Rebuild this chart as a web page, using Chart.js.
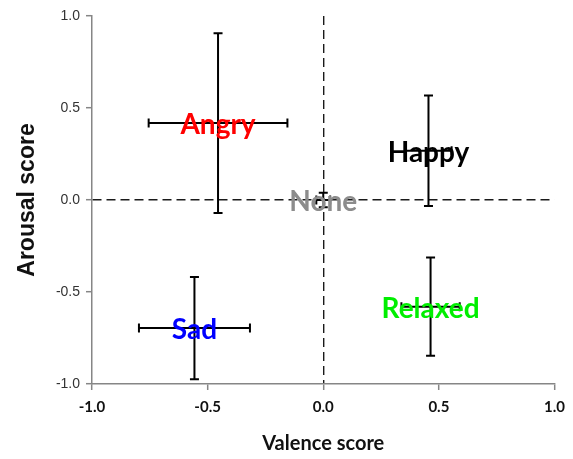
<!DOCTYPE html>
<html>
<head>
<meta charset="utf-8">
<script src="https://cdn.jsdelivr.net/npm/chart.js@4.4.1/dist/chart.umd.min.js"></script>
<style>
  html, body { margin: 0; padding: 0; background: #fff; }
  #wrap { width: 573px; height: 459px; }
</style>
</head>
<body>
<div id="wrap"><canvas id="chart"></canvas></div>
<script>
// emotion means with error bars (valence = x, arousal = y)
const emotions = ['Angry', 'Happy', 'None', 'Sad', 'Relaxed'];
const valence = [-0.455, 0.455, 0.0, -0.557, 0.464];
const valenceErr = [0.30, 0.10, 0.03, 0.24, 0.126];
const arousal = [0.418, 0.268, 0.0, -0.696, -0.58];
const arousalErr = [0.488, 0.30, 0.04, 0.278, 0.267];
const labelColors = ['#ff0000', '#000000', '#8c8c8c', '#0000ff', '#00ee00'];
const axisTicks = [-1.0, -0.5, 0.0, 0.5, 1.0];

const points = emotions.map((name, i) => ({ x: valence[i], y: arousal[i] }));

// draws the cross error bars and the text labels
const errorBarPlugin = {
    id: 'errorBars',
    afterDatasetsDraw(chart) {
        const ctx = chart.ctx;
        const xs = chart.scales.x;
        const ys = chart.scales.y;
        const cap = 4.5;

        ctx.save();
        ctx.strokeStyle = '#000';
        ctx.lineWidth = 2;
        emotions.forEach((name, i) => {
            const cx = xs.getPixelForValue(valence[i]);
            const cy = ys.getPixelForValue(arousal[i]);
            const x0 = xs.getPixelForValue(valence[i] - valenceErr[i]);
            const x1 = xs.getPixelForValue(valence[i] + valenceErr[i]);
            const y0 = ys.getPixelForValue(arousal[i] - arousalErr[i]);
            const y1 = ys.getPixelForValue(arousal[i] + arousalErr[i]);

            ctx.beginPath();
            // horizontal bar + caps
            ctx.moveTo(x0, cy); ctx.lineTo(x1, cy);
            ctx.moveTo(x0, cy - cap); ctx.lineTo(x0, cy + cap);
            ctx.moveTo(x1, cy - cap); ctx.lineTo(x1, cy + cap);
            // vertical bar + caps
            ctx.moveTo(cx, y0); ctx.lineTo(cx, y1);
            ctx.moveTo(cx - cap, y0); ctx.lineTo(cx + cap, y0);
            ctx.moveTo(cx - cap, y1); ctx.lineTo(cx + cap, y1);
            ctx.stroke();
        });

        ctx.font = 'bold 28px Lato, "Open Sans", sans-serif';
        ctx.textAlign = 'center';
        ctx.textBaseline = 'middle';
        emotions.forEach((name, i) => {
            ctx.fillStyle = labelColors[i];
            ctx.fillText(name, xs.getPixelForValue(valence[i]), ys.getPixelForValue(arousal[i]) + 2);
        });
        ctx.restore();
    }
};

const zeroGrid = (c) => (c.tick && c.tick.value === 0 ? '#1a1a1a' : 'rgba(0,0,0,0)');

new Chart(document.getElementById('chart'), {
    type: 'scatter',
    data: {
        datasets: [{
            data: points,
            pointRadius: 0,
            showLine: false
        }]
    },
    options: {
        responsive: true,
        maintainAspectRatio: false,
        animation: false,
        layout: { padding: { left: 8, right: 18, top: 16, bottom: 2 } },
        plugins: {
            legend: { display: false },
            tooltip: { enabled: false }
        },
        scales: {
            x: {
                type: 'linear',
                min: -1, max: 1,
                afterBuildTicks: (scale) => { scale.ticks = axisTicks.map(v => ({ value: v })); },
                afterFit: (scale) => { scale.height = 73; },
                border: { color: '#868686', width: 1.5, dash: [9, 5] },
                grid: {
                    color: zeroGrid,
                    lineWidth: 1.4,
                    tickColor: '#868686',
                    tickLength: 6,
                    tickWidth: 1.5
                },
                ticks: {
                    color: '#111',
                    padding: 8,
                    font: { family: 'Lato, "Open Sans", sans-serif', size: 15, weight: 'bold' },
                    callback: (v) => v.toFixed(1)
                },
                title: {
                    display: true,
                    text: 'Valence score',
                    color: '#111',
                    padding: { top: 0, bottom: 1 },
                    font: { family: 'Lato, "Open Sans", sans-serif', size: 20, weight: 'bold' }
                }
            },
            y: {
                type: 'linear',
                min: -1, max: 1,
                afterBuildTicks: (scale) => { scale.ticks = axisTicks.map(v => ({ value: v })); },
                afterFit: (scale) => { scale.width = 84; },
                border: { color: '#868686', width: 1.5, dash: [9, 5] },
                grid: {
                    color: zeroGrid,
                    lineWidth: 1.4,
                    tickColor: '#868686',
                    tickLength: 6,
                    tickWidth: 1.5
                },
                ticks: {
                    color: '#333',
                    padding: 6,
                    font: { family: '"Liberation Sans", Arial, sans-serif', size: 14 },
                    callback: (v) => v.toFixed(1)
                },
                title: {
                    display: true,
                    text: 'Arousal score',
                    color: '#111',
                    padding: { top: 6, bottom: 0 },
                    font: { family: '"Liberation Sans", Arial, sans-serif', size: 23, weight: 'bold' }
                }
            }
        }
    },
    plugins: [errorBarPlugin]
});
</script>
</body>
</html>
